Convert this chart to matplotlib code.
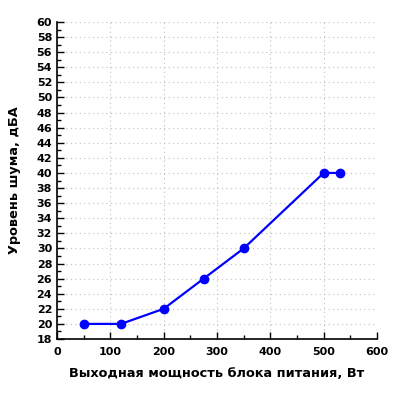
import matplotlib.pyplot as plt
from matplotlib.ticker import MultipleLocator

power = [50, 120, 200, 275, 350, 500, 530]
noise = [20, 20, 22, 26, 30, 40, 40]

fig = plt.figure(figsize=(4, 4), dpi=100)
ax = fig.add_axes([0.1425, 0.1525, 0.8, 0.7925])

ax.plot(power, noise, color='#0000ff', lw=1.6, marker='o', ms=6, zorder=3)

ax.set_xlim(0, 600)
ax.set_ylim(18, 60)
ax.xaxis.set_major_locator(MultipleLocator(100))
ax.xaxis.set_minor_locator(MultipleLocator(50))
ax.yaxis.set_major_locator(MultipleLocator(2))
ax.yaxis.set_minor_locator(MultipleLocator(1))

ax.grid(True, which='major', color='#c0c0c0', ls=(0, (1, 3)), lw=0.8)
for s in ['top', 'right']:
    ax.spines[s].set_visible(False)
for s in ['left', 'bottom']:
    ax.spines[s].set_linewidth(1.2)

ax.tick_params(which='major', direction='in', length=5, width=1, labelsize=8)
ax.tick_params(axis='x', which='major', pad=6)
ax.tick_params(which='minor', direction='in', length=3, width=1)
for lab in ax.get_xticklabels() + ax.get_yticklabels():
    lab.set_fontweight('bold')

ax.set_xlabel('Выходная мощность блока питания, Вт', fontsize=9.3, fontweight='bold', labelpad=7)
ax.set_ylabel('Уровень шума, дБА', fontsize=9.3, fontweight='bold', labelpad=11)

fig.savefig('out.png', dpi=100)
